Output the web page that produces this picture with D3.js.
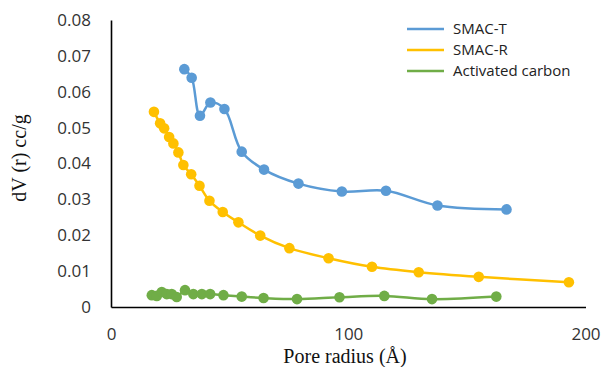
<!DOCTYPE html>
<html><head><meta charset="utf-8">
<script src="https://cdn.jsdelivr.net/npm/d3@7"></script>
<style>body{margin:0;background:#fff;} svg{display:block;}</style>
</head><body>
<script>
const seriesNames = ["SMAC-T", "SMAC-R", "Activated carbon"];
const seriesColors = ["#5B9BD5", "#FFC000", "#70AD47"];
const smacT_x = [30.9, 34.0, 37.5, 41.9, 47.8, 55.1, 64.5, 79.0, 97.3, 115.9, 137.6, 166.7];
const smacT_y = [0.0663, 0.0639, 0.0533, 0.0570, 0.0552, 0.0433, 0.0383, 0.0344, 0.0322, 0.0324, 0.0283, 0.0272];
const smacR_x = [18.1, 20.7, 22.4, 24.5, 26.3, 28.4, 30.5, 33.8, 37.3, 41.5, 47.1, 53.7, 62.9, 75.2, 91.7, 110.0, 129.7, 155.0, 193.0];
const smacR_y = [0.0544, 0.0512, 0.0498, 0.0474, 0.0456, 0.0431, 0.0396, 0.0370, 0.0338, 0.0296, 0.0265, 0.0236, 0.0199, 0.0164, 0.0136, 0.0112, 0.0097, 0.0084, 0.0069];
const ac_x = [17.2, 19.3, 21.4, 23.5, 25.6, 27.7, 31.2, 34.7, 38.3, 41.8, 47.4, 55.1, 64.3, 78.4, 96.3, 115.2, 135.3, 162.4];
const ac_y = [0.0033, 0.0031, 0.0042, 0.0036, 0.0036, 0.0028, 0.0047, 0.0036, 0.0036, 0.0036, 0.0033, 0.0029, 0.0025, 0.0022, 0.0027, 0.0031, 0.0022, 0.0029];
const xTicks = [0, 100, 200];
const yTicks = [0, 0.01, 0.02, 0.03, 0.04, 0.05, 0.06, 0.07, 0.08];

const W = 606, H = 367;
const svg = d3.select("body").append("svg").attr("width", W).attr("height", H);
const x = d3.scaleLinear().domain([0, 200]).range([111, 585.5]);
const y = d3.scaleLinear().domain([0, 0.08]).range([307, 20]);

const series = [
  {name: seriesNames[0], color: seriesColors[0], xs: smacT_x, ys: smacT_y},
  {name: seriesNames[1], color: seriesColors[1], xs: smacR_x, ys: smacR_y},
  {name: seriesNames[2], color: seriesColors[2], xs: ac_x, ys: ac_y}
];

// axes
const yAxis = d3.axisLeft(y).tickValues(yTicks).tickSize(0).tickPadding(20)
  .tickFormat(d => d === 0 ? "0" : d3.format(".2f")(d));
const gy = svg.append("g").attr("transform", `translate(${x(0)},0)`).call(yAxis);
const xAxis = d3.axisBottom(x).tickValues(xTicks).tickSize(0).tickPadding(21).tickFormat(d3.format("d"));
const gx = svg.append("g").attr("transform", `translate(0,${y(0)})`).call(xAxis);
[gx, gy].forEach(g => {
  g.select(".domain").attr("stroke", "#000").attr("stroke-width", 1.6);
  g.selectAll("text").attr("font-family", "'Open Sans', sans-serif").attr("font-size", 17).attr("fill", "#333");
});

const line = d3.line().curve(d3.curveCatmullRom.alpha(0.5));
series.forEach(s => {
  const pts = s.xs.map((v, i) => [x(v), y(s.ys[i])]);
  svg.append("path").attr("d", line(pts)).attr("fill", "none")
    .attr("stroke", s.color).attr("stroke-width", 2.5);
  svg.append("g").selectAll("circle").data(pts).join("circle")
    .attr("cx", d => d[0]).attr("cy", d => d[1]).attr("r", 5.3)
    .attr("fill", s.color);
});

// legend
const leg = svg.append("g");
series.forEach((s, i) => {
  const ly = 29 + i * 21;
  leg.append("line").attr("x1", 407).attr("x2", 444).attr("y1", ly).attr("y2", ly)
    .attr("stroke", s.color).attr("stroke-width", 2.5);
  leg.append("text").attr("x", 453).attr("y", ly).attr("dy", "0.35em")
    .attr("font-family", "'Open Sans', sans-serif").attr("font-size", 15).attr("fill", "#222")
    .text(s.name);
});

// axis titles
svg.append("text").attr("x", 345).attr("y", 363).attr("text-anchor", "middle")
  .attr("font-family", "'Liberation Serif', 'Times New Roman', serif").attr("font-size", 20).attr("fill", "#111")
  .text("Pore radius (Å)");
svg.append("text").attr("transform", "translate(26,158) rotate(-90)").attr("text-anchor", "middle")
  .attr("font-family", "'Liberation Serif', 'Times New Roman', serif").attr("font-size", 20).attr("fill", "#111")
  .text("dV (r) cc/g");
</script>
</body></html>
